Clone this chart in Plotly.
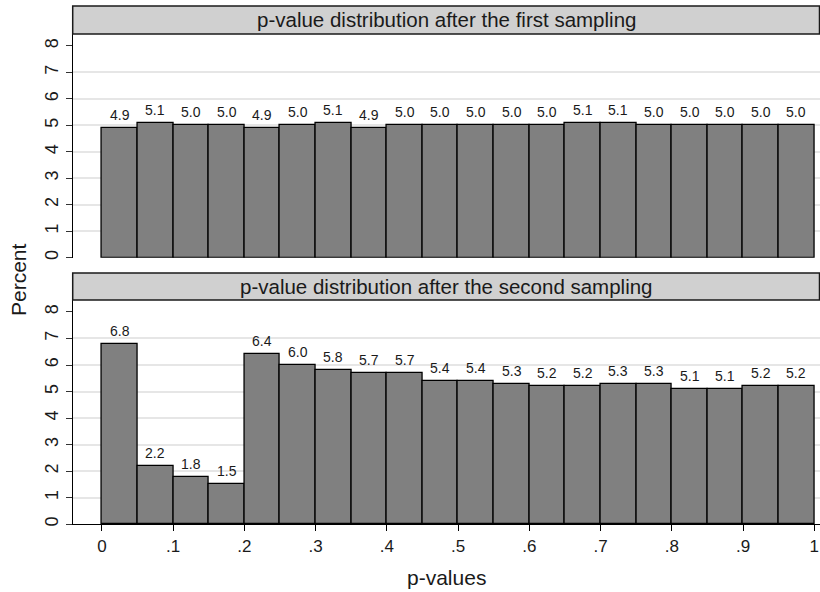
import plotly.graph_objects as go

# ---- data ----
bin_start = [0.00, 0.05, 0.10, 0.15, 0.20, 0.25, 0.30, 0.35, 0.40, 0.45,
             0.50, 0.55, 0.60, 0.65, 0.70, 0.75, 0.80, 0.85, 0.90, 0.95]
bin_width = 0.05
pct_first = [4.9, 5.1, 5.0, 5.0, 4.9, 5.0, 5.1, 4.9, 5.0, 5.0,
             5.0, 5.0, 5.0, 5.1, 5.1, 5.0, 5.0, 5.0, 5.0, 5.0]
pct_second = [6.8, 2.2, 1.8, 1.5, 6.4, 6.0, 5.8, 5.7, 5.7, 5.4,
              5.4, 5.3, 5.2, 5.2, 5.3, 5.3, 5.1, 5.1, 5.2, 5.2]
panel_titles = ["p-value distribution after the first sampling",
                "p-value distribution after the second sampling"]
y_ticks = [0, 1, 2, 3, 4, 5, 6, 7, 8]
grid_levels = [0, 1, 2, 3, 4, 5, 6, 7]
x_ticks = [0, 0.1, 0.2, 0.3, 0.4, 0.5, 0.6, 0.7, 0.8, 0.9, 1.0]
x_ticklabels = ["0", ".1", ".2", ".3", ".4", ".5", ".6", ".7", ".8", ".9", "1"]

# ---- layout geometry (pixels) ----
W, H = 820, 592
FONT = "Liberation Sans, Arial, sans-serif"
TXT = "#1a1a1a"
px_l, px_r = 72.7, 819.5
panels = [  # header top, header bottom(=plot top), plot bottom
    (6, 34, 257.7),
    (273, 300, 524.3),
]
xd = [px_l / W, px_r / W]

fig = go.Figure()
series = [pct_first, pct_second]
annotations = []
for i, vals in enumerate(series):
    xa = "x" if i == 0 else "x2"
    ya = "y" if i == 0 else "y2"
    fig.add_trace(go.Bar(
        x=bin_start, y=vals, width=bin_width, offset=0,
        marker=dict(color="#808080", line=dict(color="#000000", width=1.3)),
        showlegend=False, hoverinfo="skip",
        xaxis=xa, yaxis=ya,
    ))
    for b, v in zip(bin_start, vals):
        annotations.append(dict(text=f"{v:.1f}", x=b + bin_width / 2, y=v,
                                xref=xa, yref=ya, xanchor="center", yanchor="bottom",
                                yshift=3, showarrow=False,
                                font=dict(family=FONT, size=14, color=TXT)))

yrange = [0, 8.45]
xrange = [-0.0411, 1.0073]

def ydom(top, bottom):
    return [1 - bottom / H, 1 - top / H]

common_y = dict(
    range=yrange, tickvals=y_ticks, tickangle=-90, ticks="outside", ticklen=6,
    tickcolor="#333", tickwidth=1.2, showline=True, linecolor="#000", linewidth=1.3,
    showgrid=False, zeroline=False, automargin=False,
    tickfont=dict(family=FONT, size=18, color=TXT),
    minor=dict(tickvals=grid_levels, showgrid=True, gridcolor="#e6e6e6",
               gridwidth=1.5, ticks=""),
)

fig.update_layout(
    width=W, height=H, margin=dict(l=0, r=0, t=0, b=0),
    paper_bgcolor="white", plot_bgcolor="white",
    bargap=0,
    xaxis=dict(domain=xd, range=xrange, showticklabels=False, ticks="",
               showline=False, showgrid=False, zeroline=False, anchor="y"),
    yaxis=dict(domain=ydom(panels[0][1], panels[0][2]), anchor="x", **common_y),
    xaxis2=dict(domain=xd, range=xrange, tickvals=x_ticks, ticktext=x_ticklabels,
                ticks="outside", ticklen=6, tickcolor="#000", tickwidth=1.2,
                showline=True, linecolor="#000", linewidth=1.3,
                showgrid=False, zeroline=False, automargin=False, anchor="y2",
                tickfont=dict(family=FONT, size=17, color=TXT)),
    yaxis2=dict(domain=ydom(panels[1][1], panels[1][2]), anchor="x2", **common_y),
)

shapes = []
for (htop, hbot, pbot), title in zip(panels, panel_titles):
    shapes.append(dict(type="rect", xref="paper", yref="paper",
                       x0=xd[0], x1=xd[1], y0=1 - hbot / H, y1=1 - htop / H,
                       fillcolor="#d0d0d0", line=dict(color="#1a1a1a", width=1.5),
                       layer="above"))
    annotations.append(dict(text=title, xref="paper", yref="paper",
                            x=(xd[0] + xd[1]) / 2, y=1 - (htop + hbot) / 2 / H,
                            xanchor="center", yanchor="middle", showarrow=False,
                            font=dict(family=FONT, size=20.5, color=TXT)))

annotations.append(dict(text="Percent", xref="paper", yref="paper",
                        x=18 / W, y=1 - 280 / H, textangle=-90,
                        xanchor="center", yanchor="middle", showarrow=False,
                        font=dict(family=FONT, size=21, color=TXT)))
annotations.append(dict(text="p-values", xref="paper", yref="paper",
                        x=(xd[0] + xd[1]) / 2, y=1 - 577 / H,
                        xanchor="center", yanchor="middle", showarrow=False,
                        font=dict(family=FONT, size=21, color=TXT)))
fig.update_layout(shapes=shapes, annotations=annotations)

fig.write_html("out.html", config={"displayModeBar": False},
               post_script="document.body.style.margin='0';document.body.style.padding='0';")
